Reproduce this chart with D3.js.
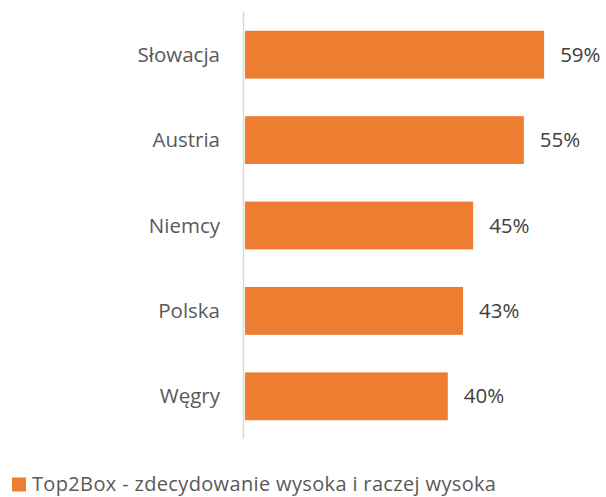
<!DOCTYPE html>
<html><head><meta charset="utf-8">
<script src="https://cdn.jsdelivr.net/npm/d3@7"></script>
<style>body{margin:0;background:#fff}svg{display:block}</style>
</head><body>
<svg id="c" width="606" height="497"></svg>
<script>
const categories = ["Słowacja","Austria","Niemcy","Polska","Węgry"];
const values = [59,55,45,43,40];
const seriesName = "Top2Box - zdecydowanie wysoka i raczej wysoka";

const svg = d3.select("#c");
const font = "'Open Sans', sans-serif";
const x = d3.scaleLinear().domain([0,1]).range([245, 245+507]);
const y = d3.scaleBand().domain(categories).range([12,439]).paddingInner(0.44).paddingOuter(0.22);

svg.selectAll("rect.bar").data(categories).join("rect")
  .attr("class","bar")
  .attr("x", x(0))
  .attr("y", d=>y(d))
  .attr("width", (d,i)=>x(values[i]/100)-x(0))
  .attr("height", y.bandwidth())
  .attr("fill","#ED7D31");

svg.append("line").attr("x1",243.5).attr("x2",243.5).attr("y1",12).attr("y2",439)
  .attr("stroke","#d9d9d9").attr("stroke-width",1.5);

svg.selectAll("text.cat").data(categories).join("text")
  .attr("class","cat")
  .attr("x",220).attr("y",d=>y(d)+y.bandwidth()/2)
  .attr("dy","0.35em").attr("text-anchor","end")
  .attr("font-family",font).attr("font-size",20.5).attr("fill","#595959")
  .text(d=>d);

svg.selectAll("text.val").data(categories).join("text")
  .attr("class","val")
  .attr("x",(d,i)=>x(values[i]/100)+16).attr("y",d=>y(d)+y.bandwidth()/2)
  .attr("dy","0.35em")
  .attr("font-family",font).attr("font-size",20.5).attr("fill","#404040")
  .text((d,i)=>values[i]+"%");

svg.append("rect").attr("x",12).attr("y",477.5).attr("width",14).attr("height",14).attr("fill","#ED7D31");
svg.append("text").attr("x",32).attr("y",491)
  .attr("font-family",font).attr("font-size",20).attr("letter-spacing",0.35).attr("fill","#595959")
  .text(seriesName);
</script>
</body></html>
